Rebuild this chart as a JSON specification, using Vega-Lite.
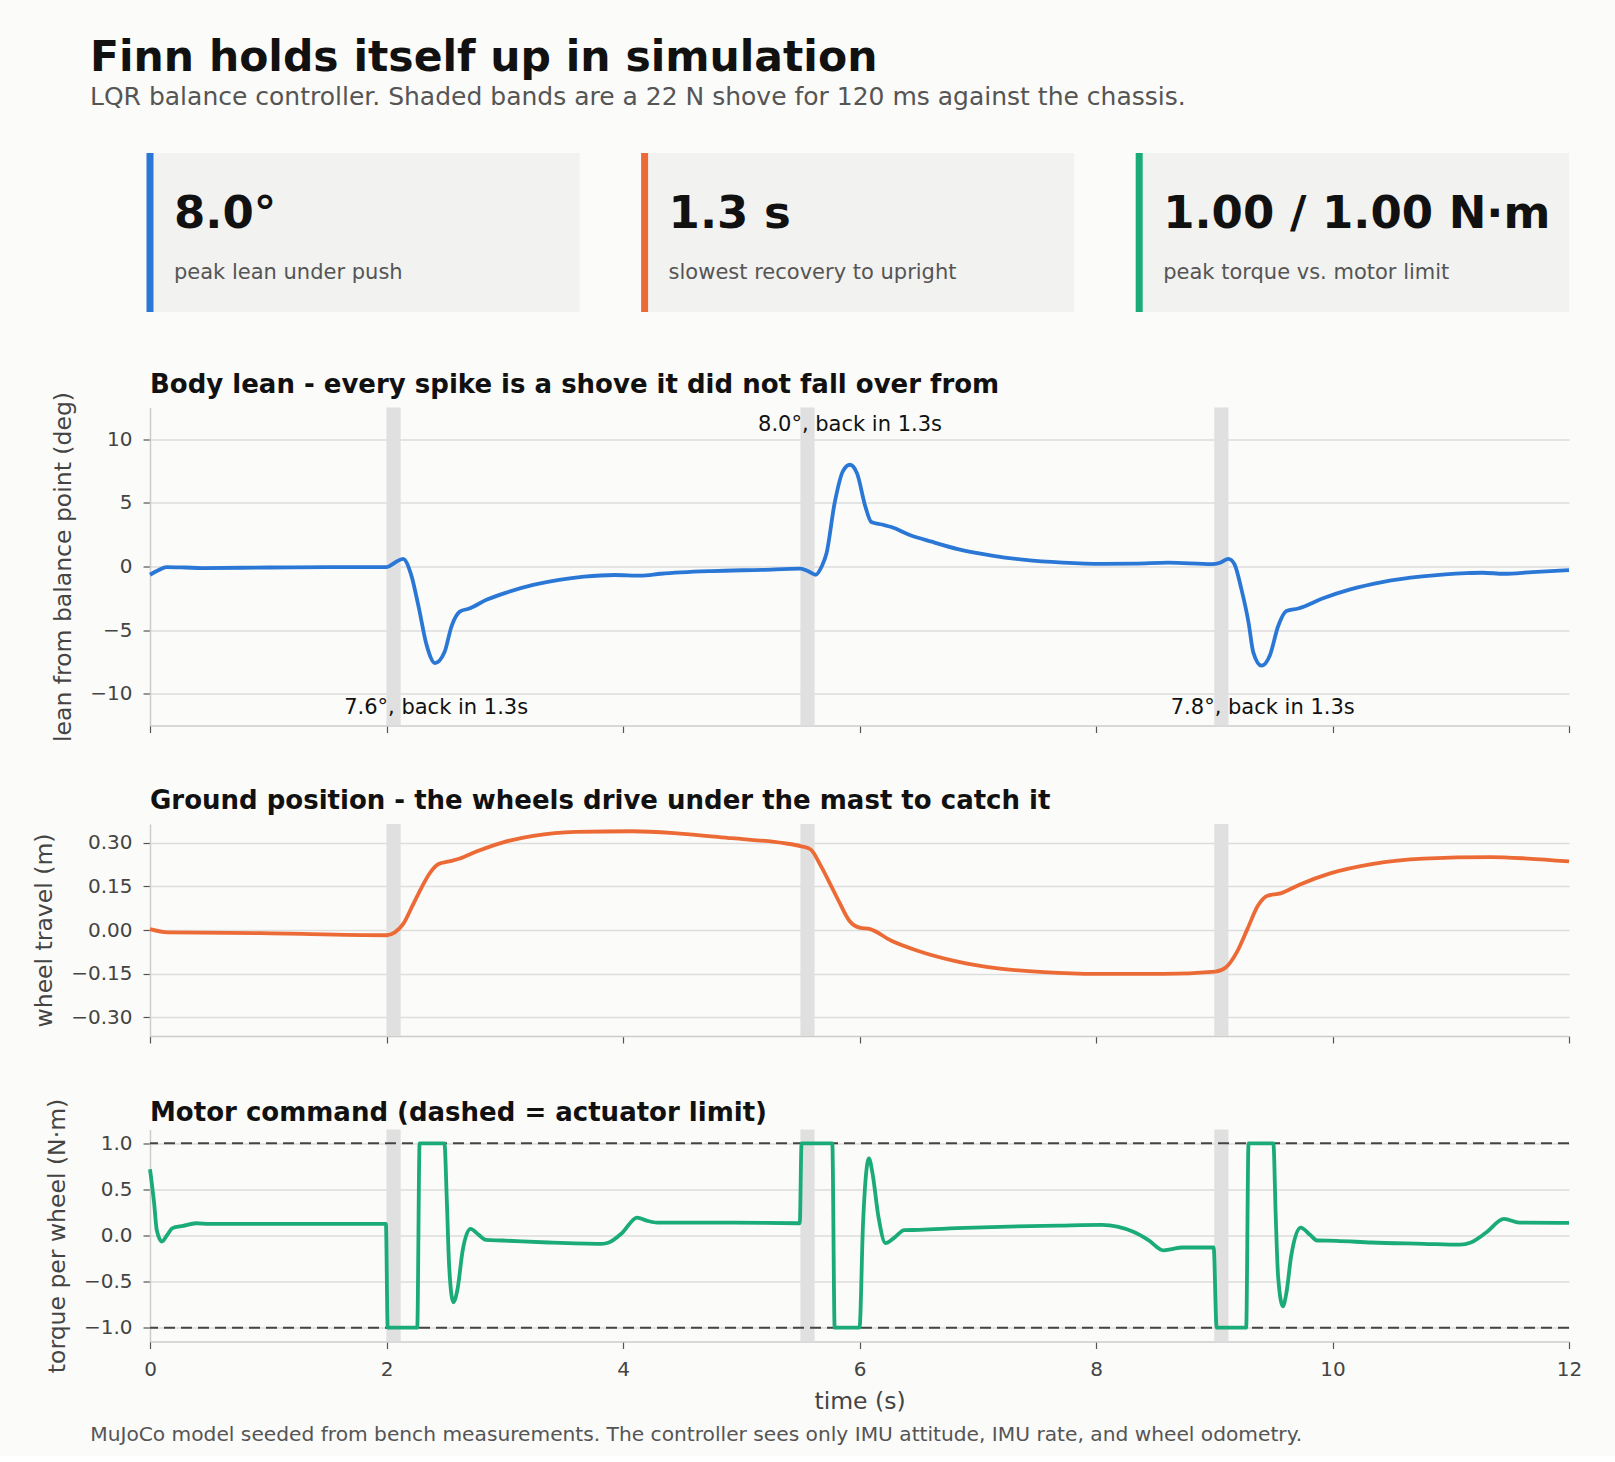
{
  "$schema": "https://vega.github.io/schema/vega-lite/v6.json",
  "background": "#fbfbf9",
  "padding": {"left": 32, "top": 37, "right": 40, "bottom": 10},
  "config": {
    "font": "DejaVu Sans",
    "view": {"stroke": null},
    "axis": {
      "domainColor": "#cccccc",
      "domainWidth": 1.5,
      "tickColor": "#555555",
      "tickSize": 7,
      "tickWidth": 1.2,
      "labelFont": "DejaVu Sans",
      "labelFontSize": 20,
      "labelColor": "#444444",
      "labelPadding": 11,
      "labelFlush": false,
      "titleFont": "DejaVu Sans",
      "titleFontSize": 23.5,
      "titleFontWeight": "normal",
      "titleColor": "#444444",
      "titlePadding": 14,
      "gridColor": "#dddddd",
      "gridWidth": 1.5
    },
    "title": {"font": "DejaVu Sans", "fontWeight": "bold", "color": "#111111", "anchor": "start"}
  },
  "datasets": {
    "cards": [
      {"card": "lean", "value": "8.0°", "label": "peak lean under push"},
      {"card": "recovery", "value": "1.3 s", "label": "slowest recovery to upright"},
      {"card": "torque", "value": "1.00 / 1.00 N·m", "label": "peak torque vs. motor limit"}
    ],
    "shoves": [
      {"start": 2.0, "end": 2.12},
      {"start": 5.5, "end": 5.62},
      {"start": 9.0, "end": 9.12}
    ],
    "notes": [
      {"t": 2.42, "deg": -11.1, "label": "7.6°, back in 1.3s"},
      {"t": 5.92, "deg": 11.1, "label": "8.0°, back in 1.3s"},
      {"t": 9.41, "deg": -11.1, "label": "7.8°, back in 1.3s"}
    ],
    "limits": [{"lim": 1}, {"lim": -1}],
    "lean": [
      {"t": 0, "deg": -0.65}, {"t": 0.07, "deg": -0.3}, {"t": 0.14, "deg": -0.05}, {"t": 0.3, "deg": -0.08},
      {"t": 0.44, "deg": -0.12}, {"t": 1.0, "deg": -0.08}, {"t": 1.5, "deg": -0.05}, {"t": 2.0, "deg": -0.05},
      {"t": 2.07, "deg": 0.3}, {"t": 2.14, "deg": 0.6}, {"t": 2.21, "deg": -0.7}, {"t": 2.27, "deg": -3.1},
      {"t": 2.34, "deg": -6.2}, {"t": 2.41, "deg": -7.6}, {"t": 2.49, "deg": -6.75}, {"t": 2.55, "deg": -4.7},
      {"t": 2.62, "deg": -3.55}, {"t": 2.7, "deg": -3.3}, {"t": 2.85, "deg": -2.6}, {"t": 3.03, "deg": -2.0},
      {"t": 3.24, "deg": -1.45}, {"t": 3.46, "deg": -1.05}, {"t": 3.67, "deg": -0.8}, {"t": 3.93, "deg": -0.67},
      {"t": 4.15, "deg": -0.72}, {"t": 4.32, "deg": -0.57}, {"t": 4.75, "deg": -0.36}, {"t": 5.18, "deg": -0.26},
      {"t": 5.5, "deg": -0.17}, {"t": 5.57, "deg": -0.39}, {"t": 5.63, "deg": -0.65}, {"t": 5.68, "deg": 0.0},
      {"t": 5.72, "deg": 1.0}, {"t": 5.79, "deg": 5.0}, {"t": 5.86, "deg": 7.5}, {"t": 5.92, "deg": 8.0},
      {"t": 5.98, "deg": 7.3}, {"t": 6.05, "deg": 4.7}, {"t": 6.1, "deg": 3.5}, {"t": 6.19, "deg": 3.3},
      {"t": 6.27, "deg": 3.1}, {"t": 6.42, "deg": 2.5}, {"t": 6.61, "deg": 1.95}, {"t": 6.84, "deg": 1.35},
      {"t": 7.12, "deg": 0.86}, {"t": 7.4, "deg": 0.52}, {"t": 7.72, "deg": 0.31}, {"t": 8.05, "deg": 0.21},
      {"t": 8.33, "deg": 0.23}, {"t": 8.61, "deg": 0.31}, {"t": 8.98, "deg": 0.18}, {"t": 9.05, "deg": 0.3},
      {"t": 9.12, "deg": 0.6}, {"t": 9.17, "deg": 0.2}, {"t": 9.23, "deg": -1.8}, {"t": 9.29, "deg": -4.4},
      {"t": 9.33, "deg": -6.75}, {"t": 9.4, "deg": -7.8}, {"t": 9.47, "deg": -7.0}, {"t": 9.54, "deg": -4.7},
      {"t": 9.61, "deg": -3.5}, {"t": 9.71, "deg": -3.3}, {"t": 9.92, "deg": -2.5}, {"t": 10.15, "deg": -1.8},
      {"t": 10.43, "deg": -1.2}, {"t": 10.76, "deg": -0.78}, {"t": 11.13, "deg": -0.52}, {"t": 11.27, "deg": -0.49},
      {"t": 11.45, "deg": -0.57}, {"t": 11.69, "deg": -0.44}, {"t": 12.0, "deg": -0.29}
    ],
    "wheel": [
      {"t": 0, "m": 0.003}, {"t": 0.15, "m": -0.008}, {"t": 0.94, "m": -0.011}, {"t": 2.0, "m": -0.018},
      {"t": 2.07, "m": -0.008}, {"t": 2.14, "m": 0.02}, {"t": 2.22, "m": 0.084}, {"t": 2.29, "m": 0.141},
      {"t": 2.36, "m": 0.192}, {"t": 2.44, "m": 0.227}, {"t": 2.53, "m": 0.236}, {"t": 2.62, "m": 0.246},
      {"t": 2.76, "m": 0.27}, {"t": 2.98, "m": 0.301}, {"t": 3.24, "m": 0.324}, {"t": 3.6, "m": 0.338},
      {"t": 4.08, "m": 0.34}, {"t": 4.48, "m": 0.332}, {"t": 4.92, "m": 0.316}, {"t": 5.36, "m": 0.299},
      {"t": 5.5, "m": 0.289}, {"t": 5.585, "m": 0.278}, {"t": 5.673, "m": 0.221}, {"t": 5.76, "m": 0.152},
      {"t": 5.83, "m": 0.095}, {"t": 5.914, "m": 0.032}, {"t": 6.0, "m": 0.008}, {"t": 6.09, "m": 0.003},
      {"t": 6.27, "m": -0.037}, {"t": 6.51, "m": -0.074}, {"t": 6.82, "m": -0.108}, {"t": 7.17, "m": -0.132},
      {"t": 7.56, "m": -0.145}, {"t": 8.0, "m": -0.151}, {"t": 8.57, "m": -0.151}, {"t": 9.01, "m": -0.143},
      {"t": 9.1, "m": -0.128}, {"t": 9.19, "m": -0.077}, {"t": 9.28, "m": 0.003}, {"t": 9.37, "m": 0.084},
      {"t": 9.45, "m": 0.118}, {"t": 9.56, "m": 0.126}, {"t": 9.72, "m": 0.156}, {"t": 9.98, "m": 0.195},
      {"t": 10.33, "m": 0.227}, {"t": 10.77, "m": 0.246}, {"t": 11.34, "m": 0.251}, {"t": 11.65, "m": 0.246},
      {"t": 12.0, "m": 0.236}
    ],
    "torque": [
      {"t": 0.0, "nm": 0.72}, {"t": 0.035, "nm": 0.35}, {"t": 0.057, "nm": 0.06}, {"t": 0.1, "nm": -0.065},
      {"t": 0.146, "nm": 0.007}, {"t": 0.19, "nm": 0.08}, {"t": 0.28, "nm": 0.105}, {"t": 0.39, "nm": 0.133},
      {"t": 0.5, "nm": 0.126}, {"t": 1.995, "nm": 0.126}, {"t": 2.01, "nm": -1.0}, {"t": 2.26, "nm": -1.0},
      {"t": 2.28, "nm": 1.0}, {"t": 2.49, "nm": 1.0}, {"t": 2.51, "nm": 0.386}, {"t": 2.53, "nm": -0.335},
      {"t": 2.565, "nm": -0.724}, {"t": 2.6, "nm": -0.587}, {"t": 2.645, "nm": -0.155}, {"t": 2.71, "nm": 0.072},
      {"t": 2.78, "nm": 0.007}, {"t": 2.84, "nm": -0.047}, {"t": 2.98, "nm": -0.054}, {"t": 3.37, "nm": -0.076},
      {"t": 3.82, "nm": -0.09}, {"t": 3.88, "nm": -0.076}, {"t": 3.99, "nm": 0.025}, {"t": 4.12, "nm": 0.195},
      {"t": 4.2, "nm": 0.162}, {"t": 4.29, "nm": 0.14}, {"t": 4.92, "nm": 0.14}, {"t": 5.495, "nm": 0.133},
      {"t": 5.51, "nm": 1.0}, {"t": 5.77, "nm": 1.0}, {"t": 5.79, "nm": -1.0}, {"t": 6.0, "nm": -1.0},
      {"t": 6.03, "nm": 0.133}, {"t": 6.08, "nm": 0.836}, {"t": 6.11, "nm": 0.674}, {"t": 6.16, "nm": 0.205},
      {"t": 6.22, "nm": -0.083}, {"t": 6.29, "nm": -0.029}, {"t": 6.38, "nm": 0.058}, {"t": 6.51, "nm": 0.061},
      {"t": 6.82, "nm": 0.079}, {"t": 7.26, "nm": 0.097}, {"t": 7.69, "nm": 0.108}, {"t": 8.05, "nm": 0.115},
      {"t": 8.18, "nm": 0.097}, {"t": 8.31, "nm": 0.043}, {"t": 8.44, "nm": -0.047}, {"t": 8.57, "nm": -0.162},
      {"t": 8.64, "nm": -0.148}, {"t": 8.73, "nm": -0.13}, {"t": 8.995, "nm": -0.13}, {"t": 9.02, "nm": -1.0},
      {"t": 9.27, "nm": -1.0}, {"t": 9.29, "nm": 1.0}, {"t": 9.5, "nm": 1.0}, {"t": 9.52, "nm": 0.205},
      {"t": 9.54, "nm": -0.443}, {"t": 9.58, "nm": -0.768}, {"t": 9.61, "nm": -0.623}, {"t": 9.65, "nm": -0.227},
      {"t": 9.73, "nm": 0.086}, {"t": 9.81, "nm": 0.007}, {"t": 9.87, "nm": -0.054}, {"t": 10.03, "nm": -0.058},
      {"t": 10.33, "nm": -0.076}, {"t": 10.77, "nm": -0.09}, {"t": 11.08, "nm": -0.1}, {"t": 11.17, "nm": -0.076},
      {"t": 11.3, "nm": 0.032}, {"t": 11.45, "nm": 0.18}, {"t": 11.58, "nm": 0.14}, {"t": 12.0, "nm": 0.137}
    ]
  },
  "title": {
    "text": "MuJoCo model seeded from bench measurements. The controller sees only IMU attitude, IMU rate, and wheel odometry.",
    "orient": "bottom",
    "anchor": "start",
    "fontSize": 20.2,
    "fontWeight": "normal",
    "color": "#555555",
    "offset": 12,
    "dx": 57.5
  },
  "spacing": 45.5,
  "vconcat": [
    {
      "width": 1419,
      "height": 159,
      "title": {
        "text": "Finn holds itself up in simulation",
        "subtitle": "LQR balance controller. Shaded bands are a 22 N shove for 120 ms against the chassis.",
        "anchor": "start",
        "frame": "group",
        "dx": -60,
        "fontSize": 42.5,
        "subtitleFontSize": 25,
        "subtitleFont": "DejaVu Sans",
        "subtitleColor": "#555555",
        "subtitlePadding": 5,
        "offset": 40
      },
      "data": {"name": "cards"},
      "encoding": {
        "x": {"field": "card", "type": "nominal", "sort": null, "scale": {"paddingInner": 0.131, "paddingOuter": 0}, "axis": {"labels": false, "ticks": false, "domain": false, "grid": false, "title": null, "minExtent": 13.5, "maxExtent": 13.5}}
      },
      "layer": [
        {"mark": {"type": "rect", "color": "#f2f2f0"}},
        {
          "mark": {"type": "rule", "strokeWidth": 7},
          "encoding": {
            "x": {"field": "card", "type": "nominal", "sort": null, "bandPosition": 0},
            "color": {"field": "card", "type": "nominal", "legend": null, "scale": {"domain": ["lean", "recovery", "torque"], "range": ["#2a77d6", "#ec6a35", "#1aab78"]}}
          }
        },
        {
          "mark": {"type": "text", "align": "left", "baseline": "alphabetic", "dx": 24, "dy": -5, "fontSize": 45, "fontWeight": "bold", "color": "#111111"},
          "encoding": {
            "x": {"field": "card", "type": "nominal", "sort": null, "bandPosition": 0},
            "text": {"field": "value"}
          }
        },
        {
          "mark": {"type": "text", "align": "left", "baseline": "alphabetic", "dx": 24, "dy": 46, "fontSize": 21, "color": "#555555"},
          "encoding": {
            "x": {"field": "card", "type": "nominal", "sort": null, "bandPosition": 0},
            "text": {"field": "label"}
          }
        }
      ]
    },
    {
      "width": 1419,
      "height": 318,
      "title": {"text": "Body lean - every spike is a shove it did not fall over from", "frame": "group", "fontSize": 26, "baseline": "bottom", "offset": -32},
      "layer": [
        {
          "data": {"name": "shoves"},
          "mark": {"type": "rect", "color": "#e0e0e0"},
          "encoding": {
            "x": {"field": "start", "type": "quantitative", "scale": {"domain": [0, 12], "nice": false, "zero": false}, "axis": {"values": [0, 2, 4, 6, 8, 10, 12], "labels": false, "title": null, "grid": false}},
            "x2": {"field": "end"}
          }
        },
        {
          "mark": {"type": "rule", "color": "#d2d2d2", "strokeWidth": 2.5},
          "encoding": {"y": {"datum": 0, "type": "quantitative"}}
        },
        {
          "data": {"name": "lean"},
          "mark": {"type": "line", "color": "#2a77d6", "strokeWidth": 3.8, "interpolate": "monotone"},
          "encoding": {
            "x": {"field": "t", "type": "quantitative"},
            "y": {"field": "deg", "type": "quantitative", "scale": {"domain": [-12.5, 12.5], "nice": false, "zero": false}, "axis": {"values": [-10, -5, 0, 5, 10], "format": "d", "title": "lean from balance point (deg)", "grid": true}}
          }
        },
        {
          "data": {"name": "notes"},
          "mark": {"type": "text", "fontSize": 21, "color": "#111111", "align": "center", "baseline": "middle"},
          "encoding": {
            "x": {"field": "t", "type": "quantitative"},
            "y": {"field": "deg", "type": "quantitative"},
            "text": {"field": "label"}
          }
        }
      ]
    },
    {
      "width": 1419,
      "height": 212,
      "title": {"text": "Ground position - the wheels drive under the mast to catch it", "frame": "group", "fontSize": 26, "baseline": "bottom", "offset": -16},
      "layer": [
        {
          "data": {"name": "shoves"},
          "mark": {"type": "rect", "color": "#e0e0e0"},
          "encoding": {
            "x": {"field": "start", "type": "quantitative", "scale": {"domain": [0, 12], "nice": false, "zero": false}, "axis": {"values": [0, 2, 4, 6, 8, 10, 12], "labels": false, "title": null, "grid": false, "minExtent": 16}},
            "x2": {"field": "end"}
          }
        },
        {
          "mark": {"type": "rule", "color": "#d2d2d2", "strokeWidth": 2.5},
          "encoding": {"y": {"datum": 0, "type": "quantitative"}}
        },
        {
          "data": {"name": "wheel"},
          "mark": {"type": "line", "color": "#ec6a35", "strokeWidth": 3.8, "interpolate": "monotone"},
          "encoding": {
            "x": {"field": "t", "type": "quantitative"},
            "y": {"field": "m", "type": "quantitative", "scale": {"domain": [-0.365, 0.365], "nice": false, "zero": false}, "axis": {"values": [-0.3, -0.15, 0, 0.15, 0.3], "format": ".2f", "title": "wheel travel (m)", "grid": true}}
          }
        }
      ]
    },
    {
      "width": 1419,
      "height": 212,
      "title": {"text": "Motor command (dashed = actuator limit)", "frame": "group", "fontSize": 26, "baseline": "bottom", "offset": -54},
      "layer": [
        {
          "data": {"name": "shoves"},
          "mark": {"type": "rect", "color": "#e0e0e0"},
          "encoding": {
            "x": {"field": "start", "type": "quantitative", "scale": {"domain": [0, 12], "nice": false, "zero": false}, "axis": {"values": [0, 2, 4, 6, 8, 10, 12], "format": "d", "title": "time (s)", "titlePadding": 10, "grid": false}},
            "x2": {"field": "end"}
          }
        },
        {
          "mark": {"type": "rule", "color": "#d2d2d2", "strokeWidth": 2.5},
          "encoding": {"y": {"datum": 0, "type": "quantitative"}}
        },
        {
          "data": {"name": "limits"},
          "mark": {"type": "rule", "color": "#444444", "strokeWidth": 2, "strokeDash": [11, 6]},
          "encoding": {"y": {"field": "lim", "type": "quantitative"}}
        },
        {
          "data": {"name": "torque"},
          "mark": {"type": "line", "color": "#1aab78", "strokeWidth": 3.8, "interpolate": "monotone"},
          "encoding": {
            "x": {"field": "t", "type": "quantitative"},
            "y": {"field": "nm", "type": "quantitative", "scale": {"domain": [-1.15, 1.15], "nice": false, "zero": false}, "axis": {"values": [-1, -0.5, 0, 0.5, 1], "format": ".1f", "title": "torque per wheel (N·m)", "grid": true}}
          }
        }
      ]
    }
  ]
}
